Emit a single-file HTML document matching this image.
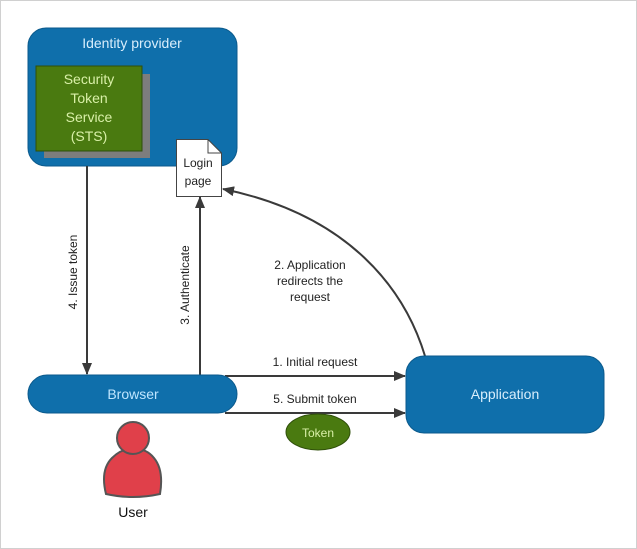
<!DOCTYPE html>
<html><head><style>
html,body{margin:0;padding:0;background:#fff}
svg{display:block}
text{font-family:"Liberation Sans",Arial,sans-serif}
</style></head><body>
<svg width="637" height="549" viewBox="0 0 637 549" xmlns="http://www.w3.org/2000/svg">
<defs>
<marker id="ah" markerWidth="12" markerHeight="10" refX="11" refY="5" orient="auto" markerUnits="userSpaceOnUse">
<path d="M0,0 L12,5 L0,10 Z" fill="#3a3a3a"/>
</marker>
</defs>
<rect x="0.5" y="0.5" width="636" height="548" fill="#fff" stroke="#d0d0d0"/>
<rect x="28" y="28" width="209" height="138" rx="18" fill="#0f6fab" stroke="#0b5a8c"/>
<text x="132" y="48" font-size="14" fill="#d8eefc" text-anchor="middle">Identity provider</text>
<rect x="44" y="74" width="106" height="84" fill="#7d7d7d"/>
<rect x="36" y="66" width="106" height="85" fill="#4a7a10" stroke="#2f4f0a"/>
<text font-size="14" fill="#d9f0a8" text-anchor="middle"><tspan x="89" y="84">Security</tspan><tspan x="89" y="103">Token</tspan><tspan x="89" y="122">Service</tspan><tspan x="89" y="141">(STS)</tspan></text>
<path d="M176.5,139.5 H208 L221.5,153 V196.5 H176.5 Z" fill="#fff" stroke="#444"/>
<path d="M208,139.5 V153 H221.5" fill="none" stroke="#444"/>
<text font-size="12" fill="#222" text-anchor="middle"><tspan x="198" y="167">Login</tspan><tspan x="198" y="185">page</tspan></text>
<g stroke="#3a3a3a" stroke-width="2" fill="none">
<line x1="87" y1="166" x2="87" y2="374" marker-end="url(#ah)"/>
<line x1="200" y1="375" x2="200" y2="197" marker-end="url(#ah)"/>
<line x1="225" y1="376" x2="405" y2="376" marker-end="url(#ah)"/>
<line x1="225" y1="413" x2="405" y2="413" marker-end="url(#ah)"/>
<path d="M425,356 C405,290 350,215 223,189" marker-end="url(#ah)"/>
</g>
<text font-size="12" fill="#222" text-anchor="middle" transform="translate(77,272) rotate(-90)">4. Issue token</text>
<text font-size="12" fill="#222" text-anchor="middle" transform="translate(189,285) rotate(-90)">3. Authenticate</text>
<text font-size="12" fill="#222" text-anchor="middle"><tspan x="310" y="269">2. Application</tspan><tspan x="310" y="285">redirects the</tspan><tspan x="310" y="301">request</tspan></text>
<text x="315" y="366" font-size="12" fill="#222" text-anchor="middle">1. Initial request</text>
<text x="315" y="403" font-size="12" fill="#222" text-anchor="middle">5. Submit token</text>
<rect x="28" y="375" width="209" height="38" rx="19" fill="#0f6fab" stroke="#0b5a8c"/>
<text x="133" y="399" font-size="14" fill="#bfe6ff" text-anchor="middle">Browser</text>
<rect x="406" y="356" width="198" height="77" rx="18" fill="#0f6fab" stroke="#0b5a8c"/>
<text x="505" y="399" font-size="14" fill="#d8eefc" text-anchor="middle">Application</text>
<ellipse cx="318" cy="432" rx="32" ry="18" fill="#4a7a10" stroke="#2f4f0a"/>
<text x="318" y="437" font-size="12" fill="#d9f0a8" text-anchor="middle">Token</text>
<path d="M106,494 Q100,470 112,458 Q122,448 133,449 Q146,448 154,458 Q164,470 160,494 Q133,500 106,494 Z" fill="#e0404a" stroke="#555" stroke-width="2"/>
<circle cx="133" cy="438" r="16" fill="#e0404a" stroke="#555" stroke-width="2"/>
<text x="133" y="517" font-size="14" fill="#111" text-anchor="middle">User</text>
</svg>
</body></html>
